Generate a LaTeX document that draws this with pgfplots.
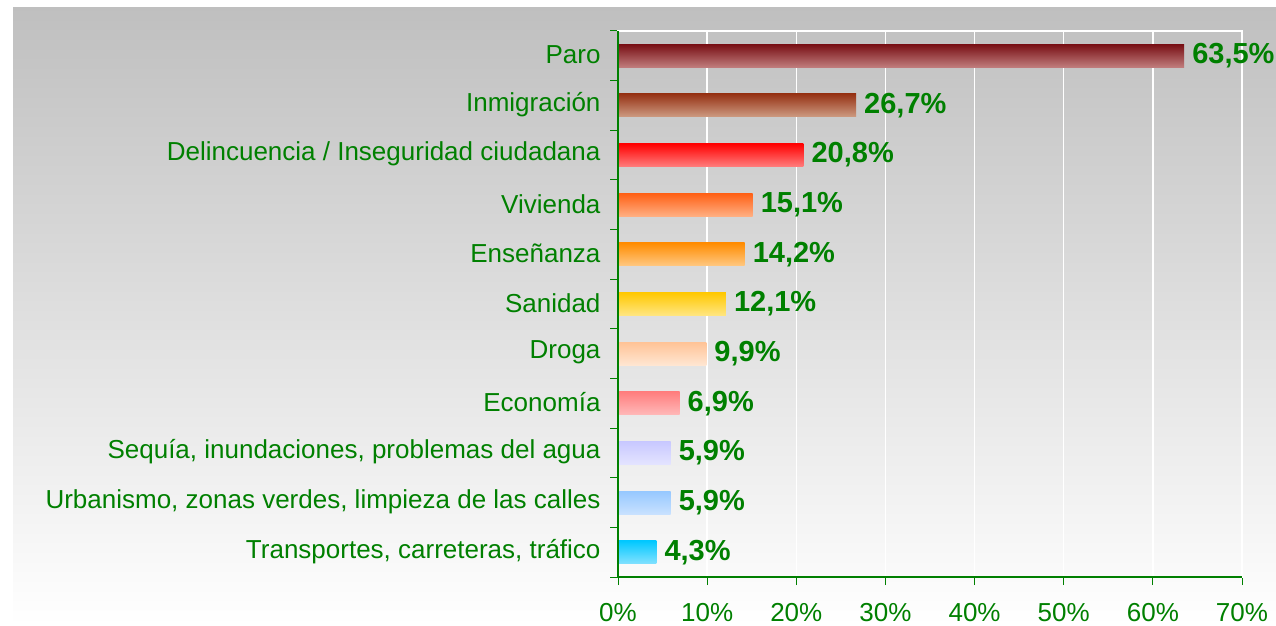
\documentclass[border=0pt]{standalone}
\usepackage{pgfplots}
\pgfplotsset{compat=1.18}
\usepackage{fontspec}
\setmainfont{Liberation Sans}

\definecolor{lblgreen}{RGB}{0,128,0}
% bar colours: top (dark) / bottom (light)
\definecolor{paroA}{RGB}{120,15,20}    \definecolor{paroB}{RGB}{192,125,125}
\definecolor{inmiA}{RGB}{150,50,20}    \definecolor{inmiB}{RGB}{205,155,130}
\definecolor{delA}{RGB}{255,0,0}       \definecolor{delB}{RGB}{255,125,125}
\definecolor{vivA}{RGB}{255,95,20}     \definecolor{vivB}{RGB}{255,175,130}
\definecolor{ensA}{RGB}{255,140,0}     \definecolor{ensB}{RGB}{255,200,130}
\definecolor{sanA}{RGB}{255,200,0}     \definecolor{sanB}{RGB}{255,230,130}
\definecolor{droA}{RGB}{255,195,150}   \definecolor{droB}{RGB}{255,230,210}
\definecolor{ecoA}{RGB}{255,125,125}   \definecolor{ecoB}{RGB}{255,185,185}
\definecolor{seqA}{RGB}{200,200,255}   \definecolor{seqB}{RGB}{228,228,255}
\definecolor{urbA}{RGB}{150,200,255}   \definecolor{urbB}{RGB}{200,225,255}
\definecolor{traA}{RGB}{0,200,255}     \definecolor{traB}{RGB}{130,225,255}

\pgfplotsset{
  gbar/.style 2 args={xbar, bar width=23pt, bar shift=0pt, draw=none,
    top color=#1, middle color=#2, bottom color=#2},
}

\begin{document}
\begin{tikzpicture}[x=1pt,y=1pt]
\useasboundingbox (0,0) rectangle (1276,625);
\fill[white] (0,0) rectangle (1276,625);
\shade[top color=black!25, bottom color=white] (13,0) rectangle (1276,617);
\begin{axis}[
    at={(618pt,48pt)}, anchor=south west,
    scale only axis,
    width=624pt, height=546pt,
    xmin=0, xmax=70,
    ymin=-0.5, ymax=10.5,
    xtick={0,10,...,70},
    xticklabels={0\%,10\%,20\%,30\%,40\%,50\%,60\%,70\%},
    ytick={0,...,10},
    yticklabels={Transportes{,} carreteras{,} tráfico,
                 Urbanismo{,} zonas verdes{,} limpieza de las calles,
                 Sequía{,} inundaciones{,} problemas del agua,
                 Economía, Droga, Sanidad, Enseñanza, Vivienda,
                 Delincuencia / Inseguridad ciudadana, Inmigración, Paro},
    minor ytick={-0.5,0.5,...,10.5},
    xtick pos=bottom, ytick pos=left,
    tick align=outside,
    major tick length=8pt, minor tick length=8pt,
    tick style={lblgreen, line width=1pt},
    major y tick style={draw=none},
    tick label style={font=\fontsize{26}{31}\selectfont, text=lblgreen},
    yticklabel style={xshift=-6pt, yshift=1pt},
    xticklabel style={yshift=-15pt},
    xmajorgrids,
    grid style={white, line width=1.5pt},
    axis line style={white, line width=1.5pt},
    point meta=explicit symbolic,
    nodes near coords,
    nodes near coords align=horizontal,
    nodes near coords style={font=\fontsize{29}{34}\selectfont\bfseries,
        text=lblgreen, inner sep=2pt, anchor=west, xshift=6pt},
    clip=false,
]
\addplot[gbar={paroA}{paroB}] coordinates {(63.5,10) [63,5\%]};
\addplot[gbar={inmiA}{inmiB}] coordinates {(26.7,9) [26,7\%]};
\addplot[gbar={delA}{delB}]   coordinates {(20.8,8) [20,8\%]};
\addplot[gbar={vivA}{vivB}]   coordinates {(15.1,7) [15,1\%]};
\addplot[gbar={ensA}{ensB}]   coordinates {(14.2,6) [14,2\%]};
\addplot[gbar={sanA}{sanB}]   coordinates {(12.1,5) [12,1\%]};
\addplot[gbar={droA}{droB}]   coordinates {(9.9,4) [9,9\%]};
\addplot[gbar={ecoA}{ecoB}]   coordinates {(6.9,3) [6,9\%]};
\addplot[gbar={seqA}{seqB}]   coordinates {(5.9,2) [5,9\%]};
\addplot[gbar={urbA}{urbB}]   coordinates {(5.9,1) [5,9\%]};
\addplot[gbar={traA}{traB}]   coordinates {(4.3,0) [4,3\%]};
% green left and bottom axis lines over the bars
\draw[lblgreen, line width=1.2pt]
    (rel axis cs:0,1) -- (rel axis cs:0,0) -- (rel axis cs:1,0);
\end{axis}
\end{tikzpicture}
\end{document}
